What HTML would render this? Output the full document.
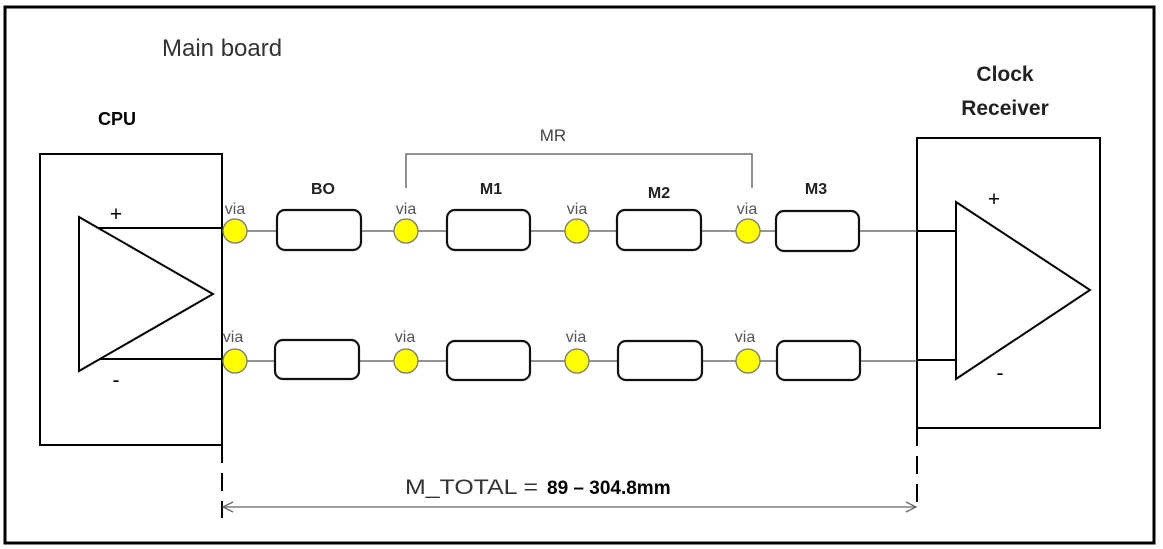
<!DOCTYPE html>
<html><head><meta charset="utf-8"><style>
html,body{margin:0;padding:0;background:#fff;}
svg{display:block;}
text{font-family:"Liberation Sans",sans-serif;}
</style></head><body>
<svg width="1163" height="549" viewBox="0 0 1163 549" xmlns="http://www.w3.org/2000/svg">
<rect x="0" y="0" width="1163" height="549" fill="#fff"/>
<rect x="5" y="7" width="1149" height="536" fill="none" stroke="#000" stroke-width="3"/>
<text x="162" y="56" font-size="24" fill="#333">Main board</text>
<text x="98" y="125" font-size="18" font-weight="bold" fill="#000">CPU</text>
<text x="1005" y="81" font-size="21" font-weight="bold" fill="#222" text-anchor="middle">Clock</text>
<text x="1005" y="115" font-size="21" font-weight="bold" fill="#222" text-anchor="middle">Receiver</text>
<text x="553" y="141" font-size="17" fill="#444" text-anchor="middle">MR</text>
<polyline points="406,188 406,154 752,154 752,188" fill="none" stroke="#555" stroke-width="1.3"/>
<rect x="40" y="154" width="182" height="291" fill="none" stroke="#000" stroke-width="2"/>
<polygon points="79,217 79,371 213,294" fill="none" stroke="#000" stroke-width="2"/>
<line x1="99" y1="228" x2="222" y2="228" stroke="#000" stroke-width="2"/>
<line x1="99" y1="359" x2="222" y2="359" stroke="#000" stroke-width="2"/>
<text x="116" y="221" font-size="21" fill="#000" text-anchor="middle">+</text>
<text x="116" y="387" font-size="21" fill="#000" text-anchor="middle">-</text>
<rect x="917" y="138" width="183" height="290" fill="none" stroke="#000" stroke-width="2"/>
<polygon points="956,202 956,379 1090,290" fill="none" stroke="#000" stroke-width="2"/>
<line x1="917" y1="231" x2="956" y2="231" stroke="#000" stroke-width="2"/>
<line x1="917" y1="360" x2="956" y2="360" stroke="#000" stroke-width="2"/>
<text x="994" y="206" font-size="21" fill="#000" text-anchor="middle">+</text>
<text x="1000" y="380" font-size="21" fill="#000" text-anchor="middle">-</text>
<line x1="222" y1="231" x2="917" y2="231" stroke="#555" stroke-width="1.3"/>
<line x1="222" y1="361" x2="917" y2="361" stroke="#555" stroke-width="1.3"/>
<g fill="#fff" stroke="#111" stroke-width="2.2">
<rect x="277" y="210" width="84" height="40" rx="8"/>
<rect x="447" y="210" width="83" height="40" rx="8"/>
<rect x="617" y="210" width="84" height="40" rx="8"/>
<rect x="776" y="211" width="83" height="40" rx="8"/>
<rect x="275" y="340" width="84" height="39" rx="8"/>
<rect x="447" y="341" width="83" height="39" rx="8"/>
<rect x="618" y="341" width="84" height="39" rx="8"/>
<rect x="777" y="341" width="83" height="39" rx="8"/>
</g>
<g font-size="16" font-weight="bold" fill="#222" text-anchor="middle">
<text x="323" y="194">BO</text>
<text x="491" y="194">M1</text>
<text x="659" y="198">M2</text>
<text x="816" y="194">M3</text>
</g>
<g fill="#ffff00" stroke="#777" stroke-width="1.3">
<circle cx="235" cy="231" r="12"/><circle cx="406" cy="231" r="12"/><circle cx="577" cy="231" r="12"/><circle cx="748" cy="231" r="12"/>
<circle cx="235" cy="361" r="12"/><circle cx="406" cy="361" r="12"/><circle cx="577" cy="361" r="12"/><circle cx="748" cy="361" r="12"/>
</g>
<g font-size="16" fill="#555" text-anchor="middle">
<text x="235" y="214">via</text><text x="406" y="214">via</text><text x="577" y="214">via</text><text x="747" y="214">via</text>
<text x="233" y="342">via</text><text x="405" y="342">via</text><text x="576" y="342">via</text><text x="745" y="342">via</text>
</g>
<line x1="222" y1="445" x2="222" y2="518" stroke="#000" stroke-width="2" stroke-dasharray="18,10"/>
<line x1="917" y1="428" x2="917" y2="508" stroke="#000" stroke-width="2" stroke-dasharray="18,10"/>
<line x1="223" y1="507" x2="916" y2="507" stroke="#666" stroke-width="1.3"/>
<polyline points="233,502 223,507 233,512" fill="none" stroke="#666" stroke-width="1.3"/>
<polyline points="906,502 916,507 906,512" fill="none" stroke="#666" stroke-width="1.3"/>
<text x="405" y="494" font-size="21" fill="#333" textLength="133" lengthAdjust="spacingAndGlyphs">M_TOTAL =</text>
<text x="547" y="494" font-size="19" font-weight="bold" fill="#000">89 – 304.8mm</text>
</svg>
</body></html>
